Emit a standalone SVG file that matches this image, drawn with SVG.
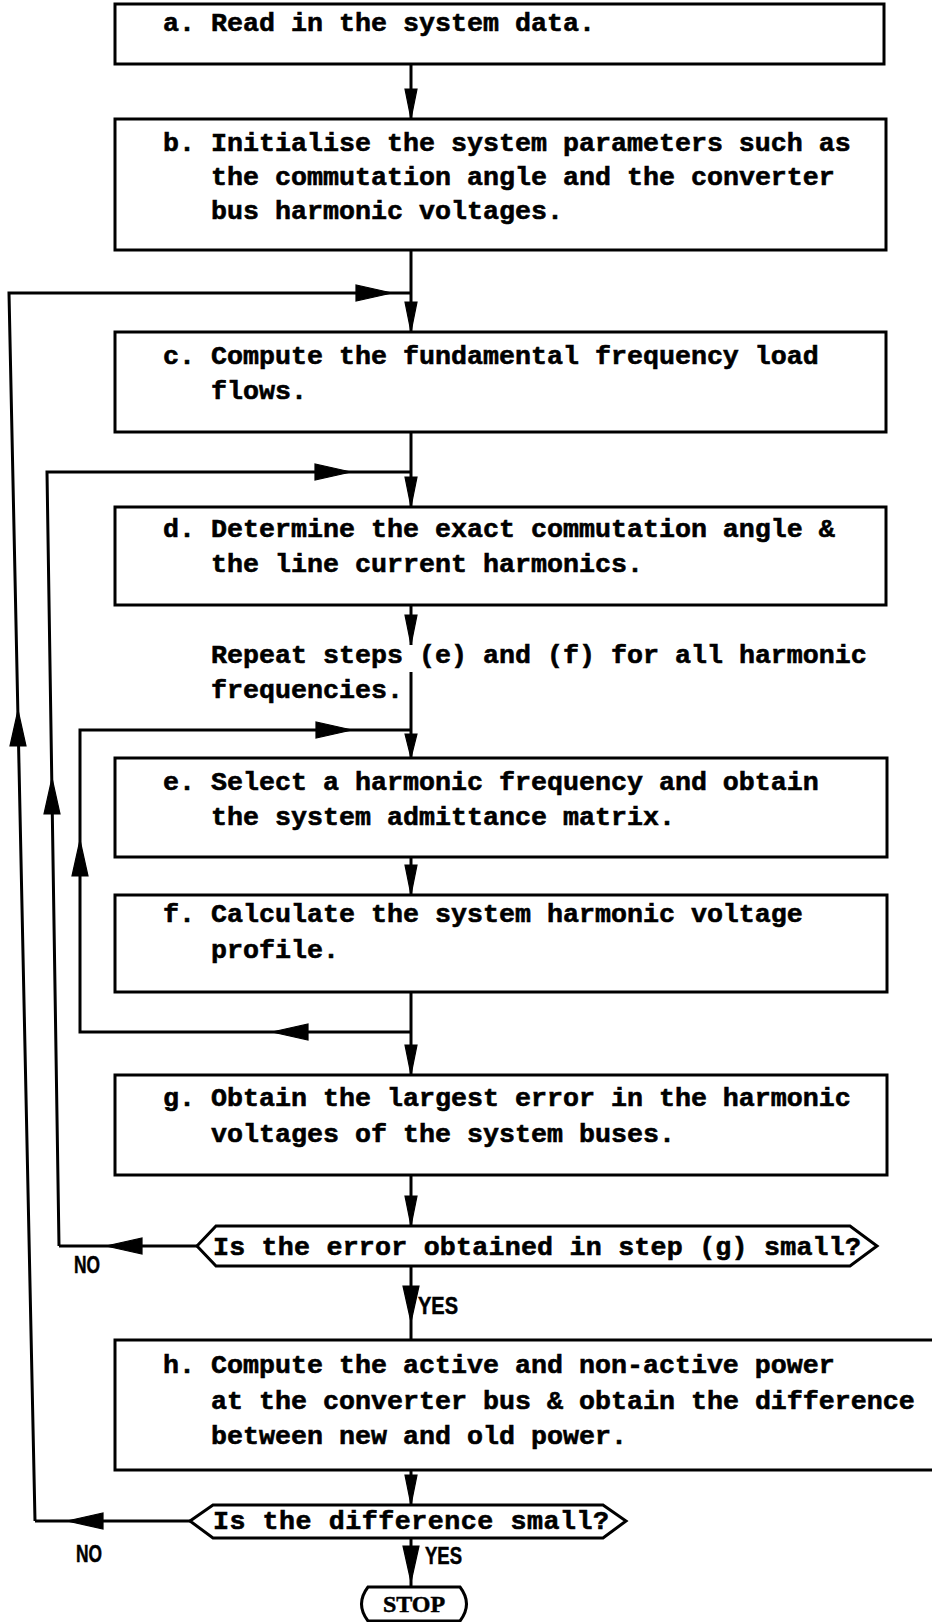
<svg xmlns="http://www.w3.org/2000/svg" xmlns:xlink="http://www.w3.org/1999/xlink" width="932" height="1622" viewBox="0 0 932 1622">
  <style>
    .box { fill: #fff; stroke: #000; stroke-width: 3; }
    .wire { fill: none; stroke: #000; stroke-width: 3; stroke-linejoin: miter; }
    .head { fill: #000; stroke: #000; stroke-width: 1.2; }
    .txt { font-family: "Liberation Mono", "Courier New", monospace; font-weight: bold; font-size: 26.67px; fill: #000; stroke: #000; stroke-width: 0.6; }
    .tag { font-family: "Liberation Sans", Arial, sans-serif; font-weight: bold; font-size: 24px; fill: #000; stroke: #000; stroke-width: 0.5; }
    .stop { font-family: "Liberation Serif", "Times New Roman", serif; font-weight: bold; font-size: 24px; fill: #000; stroke: #000; stroke-width: 0.5; }
  </style>
  <defs>
    <!-- arrowheads drawn pointing down, tip at the origin -->
    <path id="ahS" d="M0,0 L-6,-30 L6,-30 Z"/>
    <path id="ahL" d="M0,0 L-8,-36 L8,-36 Z"/>
  </defs>
  <rect width="932" height="1622" fill="#fff"/>

  <!-- connectors -->
  <g id="connectors">
    <path class="wire" d="M411,62 V119"/>
    <path class="wire" d="M411,250 V332"/>
    <path class="wire" d="M35,1521 L9,293 H411"/>
    <path class="wire" d="M411,432 V507"/>
    <path class="wire" d="M59,1246 L47,472 H411"/>
    <path class="wire" d="M411,605 V645"/>
    <path class="wire" d="M411,672 V758"/>
    <path class="wire" d="M411,1032 H80 V730 H411"/>
    <path class="wire" d="M411,857 V895"/>
    <path class="wire" d="M411,992 V1075"/>
    <path class="wire" d="M411,1175 V1226"/>
    <path class="wire" d="M197,1246 H59"/>
    <path class="wire" d="M411,1266 V1340"/>
    <path class="wire" d="M411,1470 V1505"/>
    <path class="wire" d="M190,1521 H35"/>
    <path class="wire" d="M411,1538 V1586"/>

    <g class="head">
      <use xlink:href="#ahS" transform="translate(411,119)"/>
      <use xlink:href="#ahS" transform="translate(411,332)"/>
      <use xlink:href="#ahS" transform="translate(411,507)"/>
      <use xlink:href="#ahS" transform="translate(411,645)"/>
      <use xlink:href="#ahS" transform="translate(411,758) scale(1,0.8)"/>
      <use xlink:href="#ahS" transform="translate(411,895)"/>
      <use xlink:href="#ahS" transform="translate(411,1075)"/>
      <use xlink:href="#ahS" transform="translate(411,1226)"/>
      <use xlink:href="#ahL" transform="translate(411,1322)"/>
      <use xlink:href="#ahS" transform="translate(411,1505)"/>
      <use xlink:href="#ahL" transform="translate(411,1582)"/>
      <!-- horizontal heads -->
      <use xlink:href="#ahL" transform="translate(392,293) rotate(-90)"/>
      <use xlink:href="#ahL" transform="translate(351,472) rotate(-90)"/>
      <use xlink:href="#ahL" transform="translate(352,730) rotate(-90)"/>
      <use xlink:href="#ahL" transform="translate(272,1032) rotate(90)"/>
      <use xlink:href="#ahL" transform="translate(106,1246) rotate(90)"/>
      <use xlink:href="#ahL" transform="translate(67,1521) rotate(90)"/>
      <!-- upward heads on the return lines -->
      <use xlink:href="#ahL" transform="translate(18,710) rotate(180)"/>
      <use xlink:href="#ahL" transform="translate(52,778) rotate(180)"/>
      <use xlink:href="#ahL" transform="translate(80,840) rotate(180)"/>
    </g>

    <text class="tag" x="74" y="1273" textLength="26" lengthAdjust="spacingAndGlyphs">NO</text>
    <text class="tag" x="418" y="1314" textLength="40" lengthAdjust="spacingAndGlyphs">YES</text>
    <text class="tag" x="76" y="1562" textLength="26" lengthAdjust="spacingAndGlyphs">NO</text>
    <text class="tag" x="425" y="1564" textLength="37" lengthAdjust="spacingAndGlyphs">YES</text>
  </g>

  <g id="node-a">
    <rect class="box" x="115" y="4" width="769" height="60"/>
    <text class="txt" x="163" y="31">a. Read in the system data.</text>
  </g>

  <g id="node-b">
    <rect class="box" x="115" y="119" width="771" height="131"/>
    <text class="txt" x="163" y="151">b. Initialise the system parameters such as<tspan x="211" y="185">the commutation angle and the converter</tspan><tspan x="211" y="219">bus harmonic voltages.</tspan></text>
  </g>

  <g id="node-c">
    <rect class="box" x="115" y="332" width="771" height="100"/>
    <text class="txt" x="163" y="364">c. Compute the fundamental frequency load<tspan x="211" y="399">flows.</tspan></text>
  </g>

  <g id="node-d">
    <rect class="box" x="115" y="507" width="771" height="98"/>
    <text class="txt" x="163" y="537">d. Determine the exact commutation angle &amp;<tspan x="211" y="572">the line current harmonics.</tspan></text>
  </g>

  <g id="note-repeat">
    <text class="txt" x="211" y="663">Repeat steps (e) and (f) for all harmonic<tspan x="211" y="698">frequencies.</tspan></text>
  </g>

  <g id="node-e">
    <rect class="box" x="115" y="758" width="772" height="99"/>
    <text class="txt" x="163" y="790">e. Select a harmonic frequency and obtain<tspan x="211" y="825">the system admittance matrix.</tspan></text>
  </g>

  <g id="node-f">
    <rect class="box" x="115" y="895" width="772" height="97"/>
    <text class="txt" x="163" y="922">f. Calculate the system harmonic voltage<tspan x="211" y="958">profile.</tspan></text>
  </g>

  <g id="node-g">
    <rect class="box" x="115" y="1075" width="772" height="100"/>
    <text class="txt" x="163" y="1106">g. Obtain the largest error in the harmonic<tspan x="211" y="1142">voltages of the system buses.</tspan></text>
  </g>

  <g id="decision-error">
    <path class="box" d="M197,1246 L216,1226 H850 L877,1246 L850,1266 H216 Z"/>
    <text class="txt" x="213" y="1255" textLength="648" lengthAdjust="spacing">Is the error obtained in step (g) small?</text>
  </g>

  <g id="node-h">
    <rect class="box" x="115" y="1340" width="830" height="130"/>
    <text class="txt" x="163" y="1373">h. Compute the active and non-active power<tspan x="211" y="1409">at the converter bus &amp; obtain the difference</tspan><tspan x="211" y="1444">between new and old power.</tspan></text>
  </g>

  <g id="decision-difference">
    <path class="box" d="M190,1521 L213,1505 H603 L626,1521 L603,1538 H213 Z"/>
    <text class="txt" x="213" y="1529" textLength="396" lengthAdjust="spacing">Is the difference small?</text>
  </g>

  <g id="terminal-stop">
    <path class="box" d="M368,1587 H460 Q473,1604 460,1621 H368 Q355,1604 368,1587 Z"/>
    <text class="stop" x="414" y="1612" text-anchor="middle">STOP</text>
  </g>
</svg>
